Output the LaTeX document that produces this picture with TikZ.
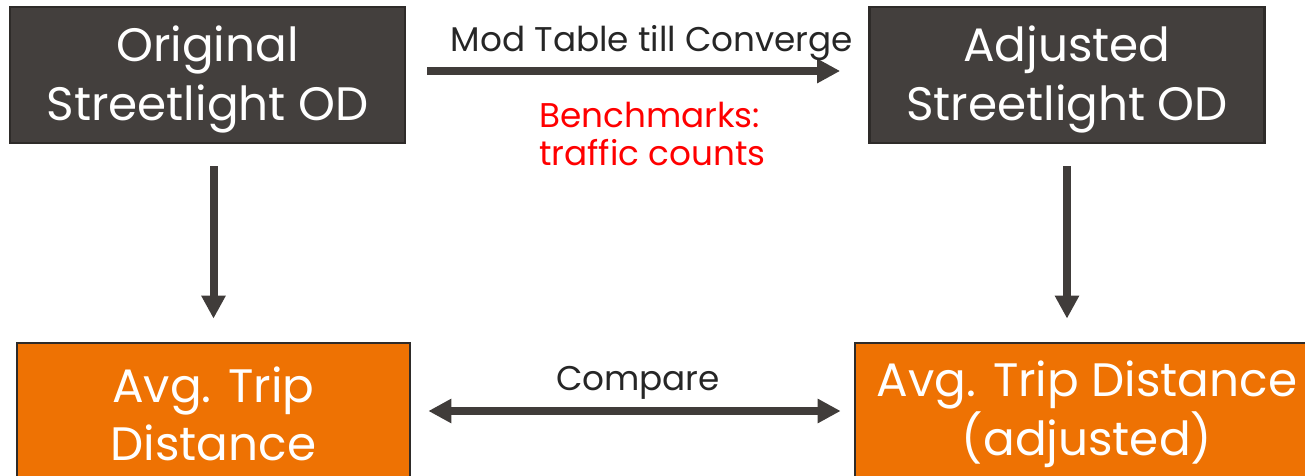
\documentclass[tikz,border=0pt]{standalone}
\usepackage{fontspec}
\setmainfont{Poppins}
\usetikzlibrary{arrows.meta}
\definecolor{boxdark}{HTML}{433F3D}
\definecolor{boxline}{HTML}{2E2B29}
\definecolor{boxorange}{HTML}{EE7203}
\definecolor{arrowgray}{HTML}{403C3A}
\definecolor{labelgray}{HTML}{262626}
\definecolor{benchred}{HTML}{FF0000}
\begin{document}
\begin{tikzpicture}[x=0.02cm,y=-0.02cm,stage/.style={shape=rectangle,draw=boxline,line width=1.6pt,minimum height=2.72cm,inner sep=0pt},stageD/.style={stage,fill=boxdark,minimum width=7.9cm},stageO/.style={stage,fill=boxorange},stagetext/.style={text=white,align=center,inner sep=0pt,yshift=-0.09cm,font=\fontsize{26.7}{33.4}\selectfont},flow/.style={draw=arrowgray,line width=0.16cm,-{Triangle[length=0.46cm,width=0.46cm]}},note/.style={font=\fontsize{19.5}{21.6}\selectfont,text=labelgray}]
\useasboundingbox (0,0) rectangle (1305,476);

% top row
\node[stageD,label={[stagetext]center:Original\\Streetlight OD}] (orig) at (207.5,75) {};
\node[stageD,label={[stagetext]center:Adjusted\\Streetlight OD}] (adj) at (1067,75) {};

% bottom row
\node[stageO,minimum width=7.86cm,label={[stagetext,yshift=0.03cm]center:Avg. Trip\\Distance}] (avgorig) at (213.5,411) {};
\node[stageO,minimum width=9.28cm,label={[stagetext,yshift=0.03cm]center:Avg. Trip Distance\\(adjusted)}] (avgadj) at (1087,411) {};

\draw[flow,shorten <=0.42cm,shorten >=0.56cm] ([yshift=0.08cm]orig.east) -- ([yshift=0.08cm]adj.west);
\node[note] (modlbl) at (652,43) {Mod Table till Converge};
\node[note,text=benchred,align=left,anchor=north west] (bench) at (533,96) {Benchmarks:\\traffic counts};

\draw[flow,shorten <=0.44cm,shorten >=0.46cm] (orig.south -| avgorig.north) -- (avgorig.north);
\draw[flow,shorten <=0.44cm,shorten >=0.46cm] (adj.south) -- (adj.south |- avgadj.north);

\draw[flow,{Triangle[length=0.46cm,width=0.46cm]}-{Triangle[length=0.46cm,width=0.46cm]},shorten <=0.34cm,shorten >=0.26cm] (avgorig.east) -- (avgadj.west);
\node[note] (cmplbl) at (638,383) {Compare};
\end{tikzpicture}
\end{document}
